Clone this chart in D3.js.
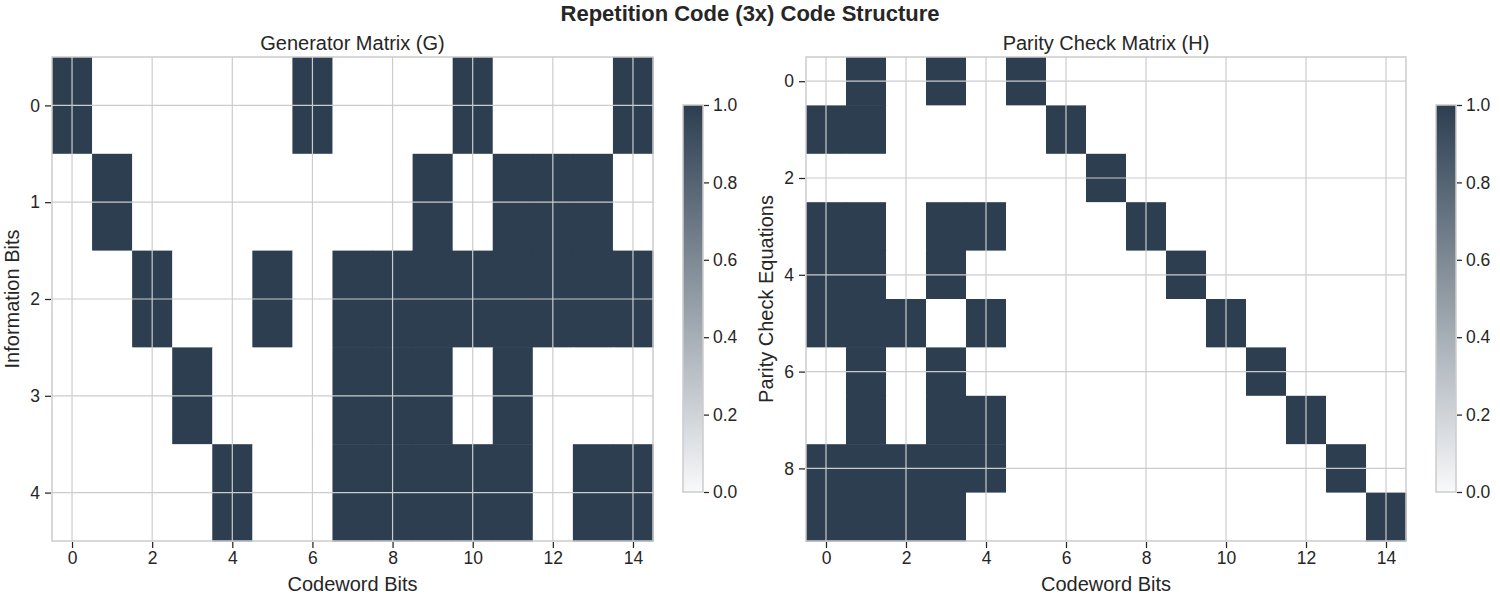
<!DOCTYPE html>
<html>
<head>
<meta charset="utf-8">
<script src="https://cdn.jsdelivr.net/npm/d3@7"></script>
<style>
  body { margin: 0; background: #fff; }
  text { font-family: "Liberation Sans", Arial, sans-serif; fill: #262626; }
</style>
</head>
<body>
<script>
// matrix data (rows of 0/1)
var genRows = [
	[1,0,0,0,0,0,1,0,0,0,1,0,0,0,1],
	[0,1,0,0,0,0,0,0,0,1,0,1,1,1,0],
	[0,0,1,0,0,1,0,1,1,1,1,1,1,1,1],
	[0,0,0,1,0,0,0,1,1,1,0,1,0,0,0],
	[0,0,0,0,1,0,0,1,1,1,1,1,0,1,1]
];
var parityRows = [
	[0,1,0,1,0,1,0,0,0,0,0,0,0,0,0],
	[1,1,0,0,0,0,1,0,0,0,0,0,0,0,0],
	[0,0,0,0,0,0,0,1,0,0,0,0,0,0,0],
	[1,1,0,1,1,0,0,0,1,0,0,0,0,0,0],
	[1,1,0,1,0,0,0,0,0,1,0,0,0,0,0],
	[1,1,1,0,1,0,0,0,0,0,1,0,0,0,0],
	[0,1,0,1,0,0,0,0,0,0,0,1,0,0,0],
	[0,1,0,1,1,0,0,0,0,0,0,0,1,0,0],
	[1,1,1,1,1,0,0,0,0,0,0,0,0,1,0],
	[1,1,1,1,0,0,0,0,0,0,0,0,0,0,1]
];
var xTicks = [0,2,4,6,8,10,12,14];
var genYTicks = [0,1,2,3,4];
var parityYTicks = [0,2,4,6,8];
var cbarTicks = [0,0.2,0.4,0.6,0.8,1.0];

var W = 1500, H = 600;
var svg = d3.select("body").append("svg")
	.attr("width", W)
	.attr("height", H);

var color = d3.scaleLinear()
	.domain([0, 1])
	.range(["#f8f9fa", "#2c3e50"]);

svg.append("text")
	.attr("x", 750)
	.attr("y", 21)
	.attr("text-anchor", "middle")
	.style("font-size", "22px")
	.style("font-weight", "bold")
	.text("Repetition Code (3x) Code Structure");

function panel(id, rows, yTicks, box, title, ylab, cbarX)
{// draw one heatmap with grid, axes and colorbar
	var nRows = rows.length, nCols = rows[0].length;
	var x = d3.scaleLinear().domain([-0.5, nCols - 0.5]).range([box.left, box.right]);
	var y = d3.scaleLinear().domain([-0.5, nRows - 0.5]).range([box.top, box.bottom]);

	var cells = [];
	rows.forEach((r, i) => r.forEach((v, j) => cells.push({i: i, j: j, v: v})));

	var g = svg.append("g");
	g.selectAll("rect.cell")
		.data(cells)
		.enter()
		.append("rect")
		.attr("class", "cell")
		.attr("x", d => x(d.j - 0.5))
		.attr("y", d => y(d.i - 0.5))
		.attr("width", x(1) - x(0) + 0.5)
		.attr("height", y(1) - y(0) + 0.5)
		.attr("fill", d => d.v ? color(d.v) : "#ffffff");

	// grid on top of the image
	g.selectAll("line.gx")
		.data(xTicks)
		.enter()
		.append("line")
		.attr("x1", d => x(d)).attr("x2", d => x(d))
		.attr("y1", box.top).attr("y2", box.bottom)
		.attr("stroke", "#cccccc").attr("stroke-width", 1.2);
	g.selectAll("line.gy")
		.data(yTicks)
		.enter()
		.append("line")
		.attr("y1", d => y(d)).attr("y2", d => y(d))
		.attr("x1", box.left).attr("x2", box.right)
		.attr("stroke", "#cccccc").attr("stroke-width", 1.2);

	// frame
	g.append("rect")
		.attr("x", box.left).attr("y", box.top)
		.attr("width", box.right - box.left)
		.attr("height", box.bottom - box.top)
		.attr("fill", "none")
		.attr("stroke", "#cccccc")
		.attr("stroke-width", 1.5);

	// axes
	var xAxis = g.append("g")
		.attr("transform", "translate(0," + (box.bottom + 1) + ")")
		.call(d3.axisBottom(x).tickValues(xTicks).tickSize(6).tickPadding(4).tickFormat(d3.format("d")));
	var yAxis = g.append("g")
		.attr("transform", "translate(" + (box.left - 1) + ",0)")
		.call(d3.axisLeft(y).tickValues(yTicks).tickSize(6).tickPadding(5).tickFormat(d3.format("d")));
	[xAxis, yAxis].forEach(a => {
		a.select(".domain").remove();
		a.selectAll(".tick line").attr("stroke", "#262626").attr("stroke-width", 1.25);
		a.selectAll(".tick text").style("font-size", "17.5px").attr("fill", "#262626");
	});

	g.append("text")
		.attr("x", (box.left + box.right) / 2)
		.attr("y", box.top - 7)
		.attr("text-anchor", "middle")
		.style("font-size", "20px")
		.text(title);
	g.append("text")
		.attr("x", (box.left + box.right) / 2)
		.attr("y", 591)
		.attr("text-anchor", "middle")
		.style("font-size", "20px")
		.text("Codeword Bits");
	g.append("text")
		.attr("transform", "translate(" + (box.left - 33) + "," + ((box.top + box.bottom) / 2) + ") rotate(-90)")
		.attr("text-anchor", "middle")
		.style("font-size", "20px")
		.text(ylab);

	// colorbar
	var cb = {top: 105, bottom: 492, left: cbarX, w: 20};
	var grad = svg.append("defs").append("linearGradient")
		.attr("id", "grad-" + id)
		.attr("x1", "0%").attr("y1", "100%")
		.attr("x2", "0%").attr("y2", "0%");
	[0, 0.25, 0.5, 0.75, 1].forEach(t => {
		grad.append("stop").attr("offset", (t * 100) + "%").attr("stop-color", color(t));
	});
	g.append("rect")
		.attr("x", cb.left).attr("y", cb.top)
		.attr("width", cb.w).attr("height", cb.bottom - cb.top)
		.attr("fill", "url(#grad-" + id + ")")
		.attr("stroke", "#cccccc")
		.attr("stroke-width", 1.5);
	var cy = d3.scaleLinear().domain([0, 1]).range([cb.bottom, cb.top]);
	var cAxis = g.append("g")
		.attr("transform", "translate(" + (cb.left + cb.w + 1) + ",0)")
		.call(d3.axisRight(cy).tickValues(cbarTicks).tickSize(5).tickPadding(4).tickFormat(d3.format(".1f")));
	cAxis.select(".domain").remove();
	cAxis.selectAll(".tick line").attr("stroke", "#262626").attr("stroke-width", 1.25);
	cAxis.selectAll(".tick text").style("font-size", "17.5px").attr("fill", "#262626");
}

panel("g", genRows, genYTicks, {left: 52, right: 653, top: 57, bottom: 541},
	"Generator Matrix (G)", "Information Bits", 683);
panel("h", parityRows, parityYTicks, {left: 806, right: 1406, top: 57, bottom: 541},
	"Parity Check Matrix (H)", "Parity Check Equations", 1436);
</script>
</body>
</html>
